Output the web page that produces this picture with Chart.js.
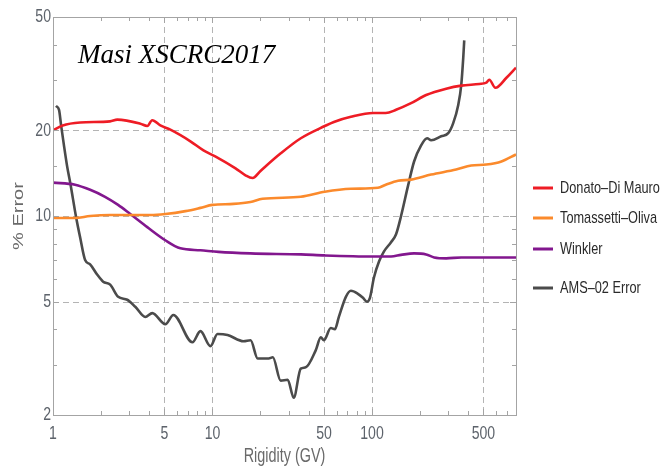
<!DOCTYPE html>
<html>
<head>
<meta charset="utf-8">
<script src="https://cdn.jsdelivr.net/npm/chart.js@4/dist/chart.umd.min.js"></script>
<style>
  html, body { margin: 0; padding: 0; background: #ffffff; }
  #wrap { width: 660px; height: 475px; }
</style>
</head>
<body>
<div id="wrap"><canvas id="chart" width="660" height="475"></canvas></div>
<script>
// Percent error on the B/C prediction versus rigidity (GV), per cross-section model
const donatoRigidity = [1, 1.15, 1.48, 2.28, 2.53, 3.53, 3.9, 4.19, 4.71, 5.44, 7.27, 8.78, 10.4, 13.95, 16.1, 17.85, 20, 26.8, 35.8, 50.6, 57.7, 73.8, 101.5, 122, 141.6, 175.8, 218.6, 292, 363, 471, 521, 544, 594, 697, 800];
const donatoError    = [20.0, 20.8, 21.3, 21.5, 21.8, 21.1, 20.7, 21.7, 20.8, 20.1, 18.3, 17.0, 16.2, 14.7, 13.9, 13.6, 14.4, 16.6, 18.75, 20.7, 21.4, 22.3, 23.0, 23.0, 23.6, 24.9, 26.6, 28.0, 28.7, 29.1, 29.4, 30.1, 28.2, 30.6, 33.2];

const tomassettiRigidity = [1, 1.375, 1.71, 2.28, 4.08, 5.06, 6.77, 8.4, 10.0, 13.55, 17.3, 20.6, 35.8, 50.6, 73.8, 109, 122, 145.7, 175.8, 235, 337, 419, 521, 648, 800];
const tomassettiError    = [9.84, 9.84, 10.0, 10.08, 10.08, 10.16, 10.4, 10.68, 10.94, 11.03, 11.2, 11.49, 11.68, 12.16, 12.46, 12.57, 12.88, 13.3, 13.42, 13.98, 14.56, 15.04, 15.16, 15.54, 16.45];

const winklerRigidity = [1, 1.375, 1.71, 2.12, 2.56, 3.05, 3.9, 5.06, 6.29, 8.4, 10.9, 17.3, 35.8, 50.6, 101.5, 131.7, 152, 183.6, 218.6, 245.5, 292, 363, 800];
const winklerError    = [13.1, 12.88, 12.36, 11.68, 10.94, 10.16, 9.14, 8.22, 7.70, 7.58, 7.48, 7.39, 7.33, 7.27, 7.21, 7.21, 7.30, 7.39, 7.33, 7.15, 7.10, 7.15, 7.15];

const amsRigidity = [1.044, 1.091, 1.123, 1.173, 1.225, 1.288, 1.395, 1.479, 1.59, 1.709, 1.891, 2.063, 2.283, 2.563, 2.921, 3.28, 3.79, 4.194, 5.063, 5.684, 7.484, 8.404, 9.714, 10.75, 12.43, 15.67, 17.34, 19.19, 22.5, 23.9, 26.77, 29.63, 32.31, 35.77, 38.45, 44.45, 47.78, 49.9, 55.2, 58.5, 62.0, 68.6, 73.8, 81.6, 87.8, 93.0, 97.1, 102.9, 110.7, 119, 131.7, 141.6, 152.2, 168.4, 183.7, 203.3, 221.7, 235, 271.6, 300.7, 323.2, 347.5, 363, 373.6, 378.9];
const amsError    = [24.35, 23.6, 20.9, 17.6, 15.0, 12.9, 9.92, 8.42, 7.0, 6.76, 6.23, 5.88, 5.74, 5.20, 5.08, 4.80, 4.42, 4.56, 4.17, 4.49, 3.60, 3.94, 3.49, 3.85, 3.82, 3.63, 3.66, 3.16, 3.16, 3.19, 2.64, 2.66, 2.30, 2.91, 2.94, 3.38, 3.75, 3.66, 4.04, 4.00, 4.42, 5.20, 5.46, 5.33, 5.16, 5.00, 5.16, 6.08, 6.92, 7.51, 8.09, 8.63, 10.0, 12.78, 15.54, 17.71, 18.75, 18.45, 19.06, 19.54, 21.2, 24.55, 28.9, 36.0, 41.4];

const seriesNames = ['Donato\u2013Di Mauro', 'Tomassetti\u2013Oliva', 'Winkler', 'AMS\u201302 Error'];

// Axis ticks and grid
const xTickLabels = [1, 5, 10, 50, 100, 500];
const yTickLabels = [2, 5, 10, 20, 50];
const xGridValues = [5, 10, 50, 100, 500];
const yGridValues = [5, 10, 20];
const xMinorTicks = [2, 3, 4, 6, 7, 8, 9, 20, 30, 40, 60, 70, 80, 90, 200, 300, 400, 600, 700];
const yMinorTicks = [3, 4, 6, 7, 8, 9, 15, 30, 40];

const chartTitle = 'Masi XSCRC2017';
const xAxisTitle = 'Rigidity (GV)';
const yAxisTitle = '% Error';

const SANS = '"Liberation Sans", Arial, sans-serif';

function pairs(xs, ys) { return xs.map((x, i) => ({ x: x, y: ys[i] })); }

function narrowText(ctx, str, x, y, size, color, align, sx) {
  ctx.save();
  ctx.font = size + 'px ' + SANS;
  ctx.fillStyle = color;
  ctx.textAlign = align;
  ctx.textBaseline = 'middle';
  ctx.translate(x, y);
  ctx.scale(sx, 1);
  ctx.fillText(str, 0, 0);
  ctx.restore();
}

const decorations = {
  id: 'decorations',
  beforeDatasetsDraw(chart) {
    const { ctx, chartArea: a, scales: { x, y } } = chart;
    ctx.save();
    ctx.strokeStyle = '#b4b4b4';
    ctx.lineWidth = 1;
    ctx.setLineDash([6, 4]);
    xGridValues.forEach(v => {
      const px = Math.round(x.getPixelForValue(v)) + 0.5;
      ctx.beginPath(); ctx.moveTo(px, a.top); ctx.lineTo(px, a.bottom); ctx.stroke();
    });
    yGridValues.forEach(v => {
      const py = Math.round(y.getPixelForValue(v)) + 0.5;
      ctx.beginPath(); ctx.moveTo(a.left, py); ctx.lineTo(a.right, py); ctx.stroke();
    });
    ctx.restore();
  },
  afterDatasetsDraw(chart) {
    const { ctx, chartArea: a, scales: { x, y } } = chart;
    ctx.save();
    // frame
    ctx.strokeStyle = '#a4a4a4';
    ctx.lineWidth = 1;
    ctx.strokeRect(Math.round(a.left) + 0.5, Math.round(a.top) + 0.5,
                   Math.round(a.right - a.left), Math.round(a.bottom - a.top));
    // inward tick marks on all four sides
    const tick = (vals, len) => {
      vals.forEach(v => {
        const px = Math.round(x.getPixelForValue(v)) + 0.5;
        ctx.beginPath();
        ctx.moveTo(px, a.bottom); ctx.lineTo(px, a.bottom - len);
        ctx.moveTo(px, a.top); ctx.lineTo(px, a.top + len);
        ctx.stroke();
      });
    };
    const ytick = (vals, len) => {
      vals.forEach(v => {
        const py = Math.round(y.getPixelForValue(v)) + 0.5;
        ctx.beginPath();
        ctx.moveTo(a.left, py); ctx.lineTo(a.left + len, py);
        ctx.moveTo(a.right, py); ctx.lineTo(a.right - len, py);
        ctx.stroke();
      });
    };
    tick(xMinorTicks, 4);
    tick(xTickLabels, 6);
    ytick(yMinorTicks, 4);
    ytick(yTickLabels, 6);
    ctx.restore();

    // tick labels
    const tickColor = '#5d636b';
    xTickLabels.forEach(v => {
      narrowText(ctx, String(v), x.getPixelForValue(v), a.bottom + 19, 19, tickColor, 'center', 0.74);
    });
    yTickLabels.forEach(v => {
      narrowText(ctx, String(v), a.left - 2, y.getPixelForValue(v), 19, tickColor, 'right', 0.74);
    });

    // axis titles
    narrowText(ctx, xAxisTitle, (a.left + a.right) / 2, a.bottom + 41, 20, '#6a6a6a', 'center', 0.72);
    ctx.save();
    ctx.font = '20px ' + SANS;
    ctx.fillStyle = '#6a6a6a';
    ctx.textAlign = 'center';
    ctx.textBaseline = 'middle';
    ctx.translate(19, (a.top + a.bottom) / 2);
    ctx.rotate(-Math.PI / 2);
    ctx.scale(1, 0.72);
    ctx.fillText(yAxisTitle, 0, 0);
    ctx.restore();

    // chart title
    ctx.save();
    ctx.font = 'italic 27px "Liberation Serif", "Times New Roman", serif';
    ctx.fillStyle = '#000000';
    ctx.textAlign = 'left';
    ctx.textBaseline = 'alphabetic';
    ctx.fillText(chartTitle, a.left + 25, a.top + 46);
    ctx.restore();

    // legend
    const rowY = [188, 218, 249, 288];
    chart.data.datasets.forEach((ds, i) => {
      const ly = rowY[i];
      ctx.save();
      ctx.strokeStyle = ds.borderColor;
      ctx.lineWidth = 3;
      ctx.beginPath();
      ctx.moveTo(a.right + 17, ly); ctx.lineTo(a.right + 37, ly);
      ctx.stroke();
      ctx.restore();
      narrowText(ctx, ds.label, a.right + 44, ly, 17, '#2a2a2a', 'left', 0.75);
    });
  }
};

const lineStyle = { fill: false, pointRadius: 0, borderWidth: 2.6, cubicInterpolationMode: 'monotone' };

new Chart(document.getElementById('chart'), {
  type: 'line',
  data: {
    datasets: [
      Object.assign({ label: seriesNames[0], data: pairs(donatoRigidity, donatoError), borderColor: '#ee1c25' }, lineStyle),
      Object.assign({ label: seriesNames[1], data: pairs(tomassettiRigidity, tomassettiError), borderColor: '#fb8a2c' }, lineStyle),
      Object.assign({ label: seriesNames[2], data: pairs(winklerRigidity, winklerError), borderColor: '#82178e' }, lineStyle),
      Object.assign({ label: seriesNames[3], data: pairs(amsRigidity, amsError), borderColor: '#4b4b4b' }, lineStyle)
    ]
  },
  options: {
    responsive: false,
    animation: false,
    devicePixelRatio: 1,
    layout: { padding: { left: 53, right: 144, top: 17, bottom: 60 } },
    plugins: { legend: { display: false }, tooltip: { enabled: false } },
    scales: {
      x: {
        type: 'logarithmic', min: 1, max: 800,
        grid: { display: false }, border: { display: false },
        ticks: { display: false },
        afterFit(s) { s.height = 0; }
      },
      y: {
        type: 'logarithmic', min: 2, max: 50,
        grid: { display: false }, border: { display: false },
        ticks: { display: false },
        afterFit(s) { s.width = 0; }
      }
    }
  },
  plugins: [decorations]
});
</script>
</body>
</html>
